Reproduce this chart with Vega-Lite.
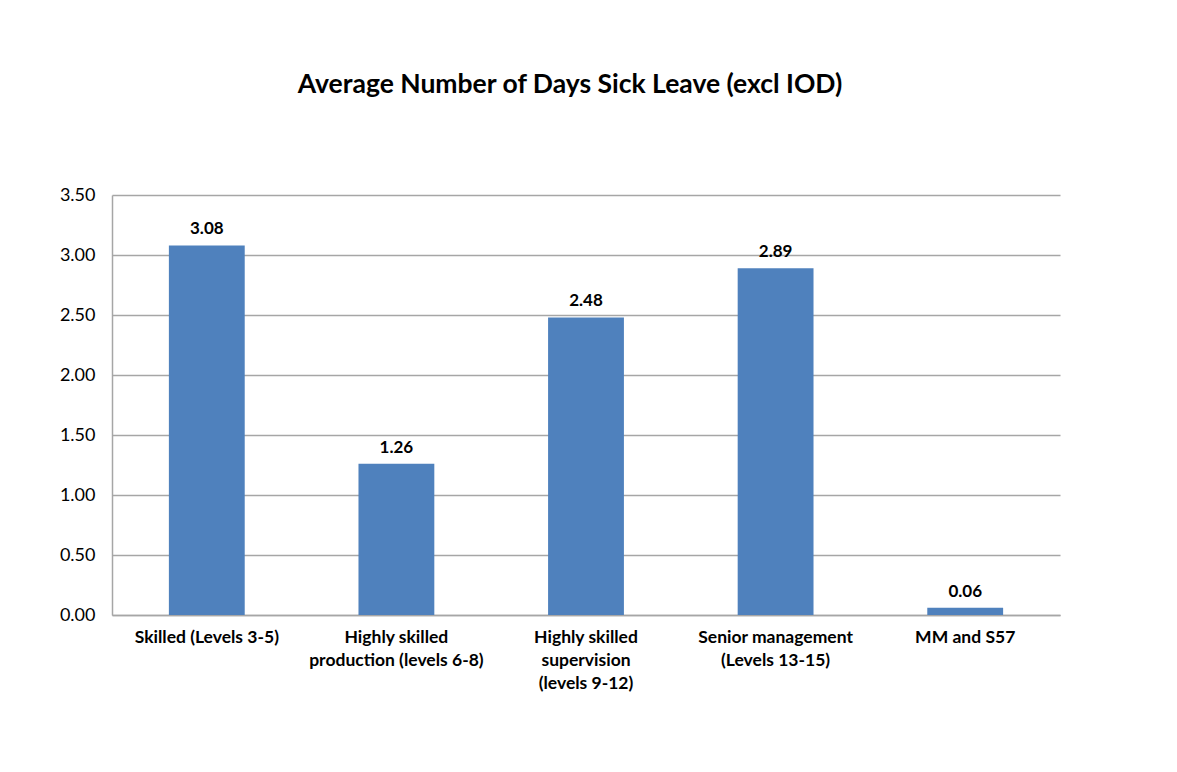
{
  "$schema": "https://vega.github.io/schema/vega-lite/v6.json",
  "autosize": "none",
  "width": 948,
  "height": 420,
  "padding": {"left": 112, "top": 195, "right": 117, "bottom": 157},
  "background": "white",
  "title": {
    "text": "Average Number of Days Sick Leave (excl IOD)",
    "font": "Lato",
    "fontSize": 26.5,
    "fontWeight": "bold",
    "color": "#000000",
    "anchor": "middle",
    "baseline": "alphabetic",
    "offset": 67,
    "dx": -16
  },
  "data": {
    "values": [
      {"category": "Skilled (Levels 3-5)", "days": 3.08},
      {"category": "Highly skilled production (levels 6-8)", "days": 1.26},
      {"category": "Highly skilled supervision (levels 9-12)", "days": 2.48},
      {"category": "Senior management (Levels 13-15)", "days": 2.89},
      {"category": "MM and S57", "days": 0.06}
    ]
  },
  "encoding": {
    "x": {
      "field": "category",
      "type": "nominal",
      "sort": null,
      "scale": {"paddingInner": 0.6, "paddingOuter": 0.3},
      "axis": {
        "title": null,
        "labelAngle": 0,
        "labelFont": "Lato",
        "labelFontSize": 17.5,
        "labelFontWeight": "bold",
        "labelColor": "#000000",
        "labelLineHeight": 23,
        "labelPadding": 13,
        "labelBaseline": "top",
        "labelLimit": 300,
        "ticks": false,
        "domainColor": "#a6a6a6",
        "domainWidth": 1.5,
        "labelExpr": "datum.value == 'Highly skilled production (levels 6-8)' ? ['Highly skilled', 'production (levels 6-8)'] : datum.value == 'Highly skilled supervision (levels 9-12)' ? ['Highly skilled', 'supervision', '(levels 9-12)'] : datum.value == 'Senior management (Levels 13-15)' ? ['Senior management', '(Levels 13-15)'] : datum.value"
      }
    },
    "y": {
      "field": "days",
      "type": "quantitative",
      "scale": {"domain": [0, 3.5], "nice": false},
      "axis": {
        "title": null,
        "values": [0, 0.5, 1, 1.5, 2, 2.5, 3, 3.5],
        "format": ".2f",
        "labelFont": "Lato",
        "labelFontSize": 18,
        "labelColor": "#000000",
        "labelPadding": 17,
        "ticks": false,
        "domainColor": "#a6a6a6",
        "domainWidth": 1.5,
        "grid": true,
        "gridColor": "#a6a6a6",
        "gridWidth": 1.5
      }
    }
  },
  "layer": [
    {"mark": {"type": "bar", "color": "#4f81bd"}},
    {
      "mark": {
        "type": "text",
        "font": "Lato",
        "fontSize": 17,
        "fontWeight": "bold",
        "color": "#000000",
        "baseline": "alphabetic",
        "dy": -11
      },
      "encoding": {"text": {"field": "days", "type": "quantitative", "format": ".2f"}}
    }
  ],
  "config": {"view": {"stroke": null}}
}
